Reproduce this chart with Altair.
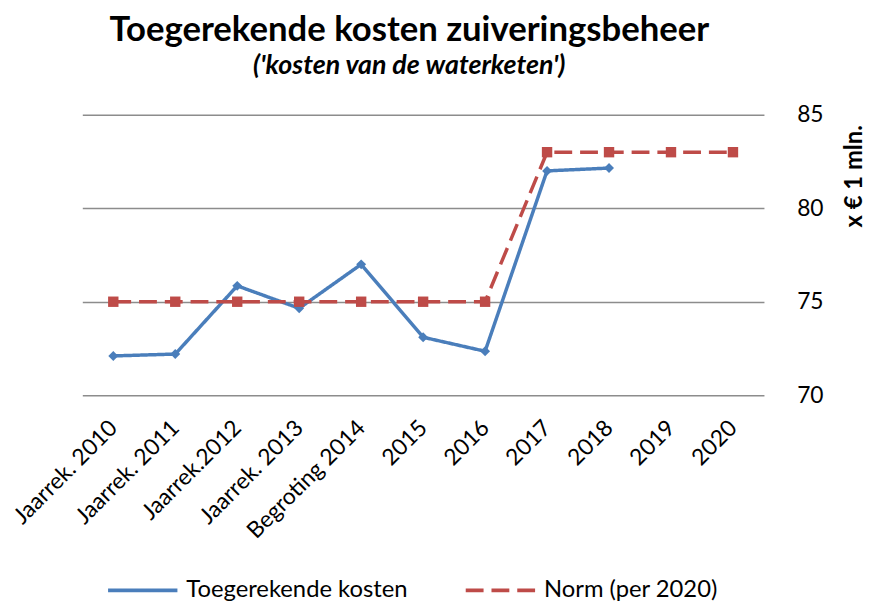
import altair as alt
import pandas as pd

categories = ["Jaarrek. 2010", "Jaarrek. 2011", "Jaarrek.2012", "Jaarrek. 2013",
              "Begroting 2014", "2015", "2016", "2017", "2018", "2019", "2020"]
kosten = [72.1, 72.2, 75.85, 74.65, 77.0, 73.1, 72.35, 82.0, 82.15, None, None]
norm = [75, 75, 75, 75, 75, 75, 75, 83, 83, 83, 83]
series_names = ["Toegerekende kosten", "Norm (per 2020)"]
series_colors = ["#4A7EBB", "#BE4B48"]

rows = []
for c, v in zip(categories, kosten):
    if v is not None:
        rows.append({"cat": c, "value": v, "series": series_names[0]})
for c, v in zip(categories, norm):
    if v is not None:
        rows.append({"cat": c, "value": v, "series": series_names[1]})
df = pd.DataFrame(rows)

FONT = "Lato"

x_enc = alt.X("cat:N", sort=categories,
              scale=alt.Scale(paddingInner=0, paddingOuter=0),
              axis=alt.Axis(title=None, labelAngle=-45, labelAlign="right",
                            labelBaseline="middle", labelPadding=29,
                            labelFont=FONT, labelFontSize=23, labelColor="#000000",
                            ticks=False, domain=False, grid=False, labelOverlap=False,
                            labelLimit=400))
y_enc = alt.Y("value:Q", scale=alt.Scale(domain=[70, 85], nice=False, zero=False),
              axis=alt.Axis(orient="right", values=[70, 75, 80, 85], title="x € 1 mln.",
                            titleFont=FONT, titleFontSize=24, titleFontWeight="bold",
                            titleAngle=270, titleAlign="right", titleBaseline="middle",
                            titleX=91, titleY=10, titleColor="#000000",
                            labelFont=FONT, labelFontSize=23, labelColor="#000000",
                            labelPadding=33, ticks=False, domain=False,
                            grid=True, gridColor="#8C8C8C", gridWidth=1.5))

legend_kw = dict(title=None, orient="none", legendX=24, legendY=443,
                 direction="horizontal", symbolType="stroke",
                 symbolSize=4900, symbolStrokeWidth=4,
                 labelFont=FONT, labelFontSize=24, labelColor="#000000",
                 labelOffset=7, columnPadding=50, padding=0, labelLimit=400)

color = alt.Color("series:N", scale=alt.Scale(domain=series_names, range=series_colors),
                  legend=alt.Legend(**legend_kw))
dash = alt.StrokeDash("series:N", scale=alt.Scale(domain=series_names, range=[[1, 0], [18, 8]]),
                      legend=alt.Legend(**legend_kw))

lines = alt.Chart(df).mark_line(strokeWidth=3.5).encode(x=x_enc, y=y_enc, color=color, strokeDash=dash)

pts_blue = alt.Chart(df).transform_filter(
    alt.datum.series == series_names[0]
).mark_point(filled=True, opacity=1, size=100, shape="diamond", color=series_colors[0]).encode(
    x=x_enc, y=y_enc)
pts_red = alt.Chart(df).transform_filter(
    alt.datum.series == series_names[1]
).mark_point(filled=True, opacity=1, size=110, shape="square", color=series_colors[1]).encode(
    x=x_enc, y=y_enc)

chart = alt.layer(lines, pts_blue, pts_red).properties(
    width=688, height=283,
    autosize=alt.AutoSizeParams(type="none"),
    padding={"left": 75, "top": 105, "right": 103, "bottom": 212},
    title=alt.TitleParams(
        text="Toegerekende kosten zuiveringsbeheer",
        subtitle="('kosten van de waterketen')",
        font=FONT, fontSize=35, fontWeight="bold", color="#000000",
        subtitleFont=FONT, subtitleFontSize=27, subtitleFontStyle="italic",
        subtitleFontWeight="bold", subtitleColor="#000000",
        anchor="middle", dx=-14, offset=25, subtitlePadding=5,
    ),
).configure(background="white").configure_view(stroke=None)

chart.save("out.html", embed_options={"renderer": "svg", "actions": False})
